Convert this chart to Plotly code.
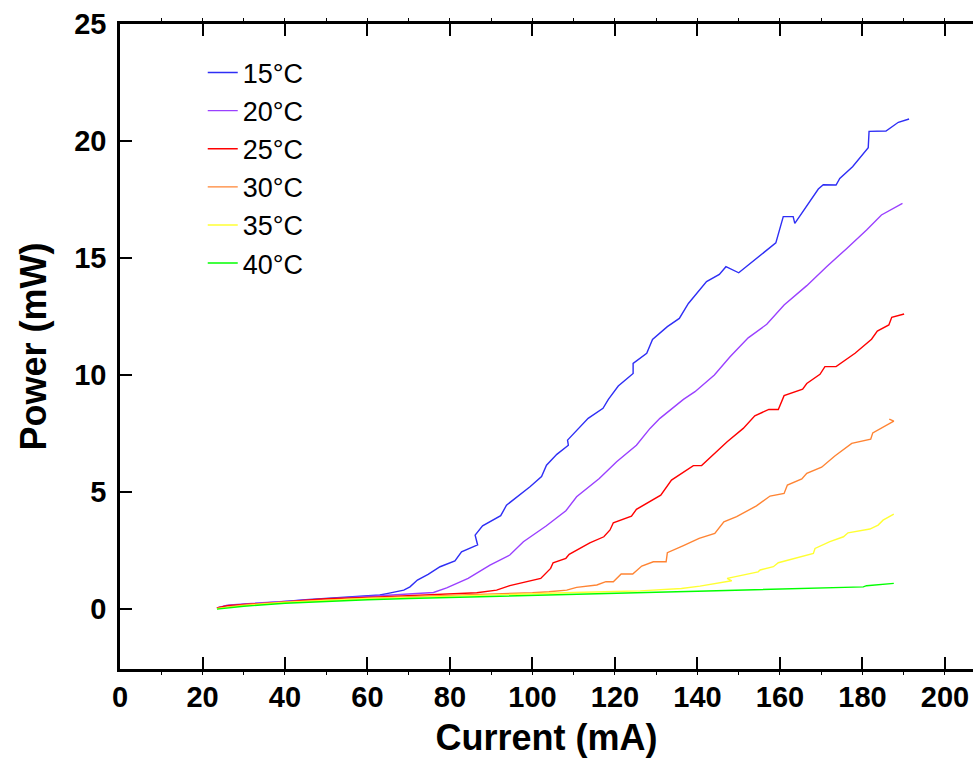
import plotly.graph_objects as go

# 15°C
x15 = [23.5, 26, 30, 35, 40, 45, 50, 55, 60, 63, 65, 68.8, 70.3, 72.1, 74.7, 77.6, 81.2, 82.8, 86.7, 86.1,
       87.9, 92.3, 93.7, 99.4, 102.2, 103.4, 105.9, 108.7, 108.5, 113.5, 117.1, 118.4, 120.8, 124.4, 124.4,
       127.7, 129.1, 132.7, 135.6, 137.8, 142.2, 145.3, 146.9, 150.0, 159.0, 160.8, 163.2, 163.6, 169.3,
       170.5, 173.6, 174.5, 177.6, 181.4, 181.6, 185.7, 188.7, 191.3]
y15 = [0.05, 0.15, 0.2, 0.25, 0.33, 0.4, 0.45, 0.5, 0.55, 0.6, 0.67, 0.81, 0.95, 1.24, 1.48, 1.81, 2.06, 2.45,
       2.74, 3.16, 3.56, 3.99, 4.44, 5.23, 5.66, 6.15, 6.61, 7.0, 7.22, 8.15, 8.58, 8.96, 9.53, 10.07, 10.5,
       10.93, 11.52, 12.07, 12.42, 13.06, 13.99, 14.3, 14.63, 14.37, 15.65, 16.77, 16.77, 16.48, 17.95,
       18.13, 18.12, 18.4, 18.9, 19.71, 20.41, 20.43, 20.8, 20.94]

# 20°C
x20 = [23.5, 26, 30, 35, 40, 45, 50, 55, 63, 70, 76, 79.2, 84.4, 89.7, 94.5, 97.8, 103.3, 108.1, 110.7, 116.2,
       120.4, 125.2, 128.5, 130.9, 136.6, 139.4, 144.1, 147.9, 152.3, 156.8, 161, 166.5, 171.3, 176.2, 181,
       184.6, 189.7]
y20 = [0.05, 0.17, 0.22, 0.27, 0.34, 0.4, 0.45, 0.5, 0.56, 0.62, 0.71, 0.91, 1.31, 1.88, 2.31, 2.88, 3.55, 4.2,
       4.8, 5.58, 6.3, 7.0, 7.72, 8.15, 8.96, 9.29, 10.0, 10.78, 11.59, 12.17, 12.99, 13.82, 14.63, 15.41,
       16.2, 16.84, 17.34]

# 25°C
x25 = [23.5, 26, 30, 38, 45, 50, 60, 70, 80, 86.5, 91.3, 94.5, 102, 104.4, 105, 108.1, 108.9, 113.9, 117.3,
       118.8, 119.6, 124, 125.2, 131.1, 133.7, 139, 141, 147.2, 151.1, 153.9, 157.3, 159.6, 161, 165.5,
       166.5, 169.7, 170.9, 173.6, 178.2, 182.2, 183.6, 186.4, 187.1, 190.1]
y25 = [0.05, 0.15, 0.2, 0.27, 0.38, 0.44, 0.5, 0.58, 0.65, 0.7, 0.81, 1.0, 1.31, 1.74, 1.98, 2.17, 2.34, 2.83,
       3.09, 3.38, 3.69, 3.97, 4.26, 4.87, 5.51, 6.13, 6.13, 7.15, 7.72, 8.26, 8.53, 8.53, 9.12, 9.4, 9.64,
       10.03, 10.36, 10.36, 10.93, 11.53, 11.88, 12.14, 12.47, 12.61]

# 30°C
x30 = [23.5, 30, 40, 50, 60, 70, 80, 90, 100, 104, 107.5, 108.3, 110.7, 115.6, 117.8, 119.6, 121.5, 124.3,
       126.5, 129.3, 132.4, 132.7, 136.6, 140.4, 144.2, 146.4, 149.5, 154.3, 157.6, 161, 161.8, 165.3,
       166.5, 170.1, 173.3, 177.4, 182, 182.5, 187.6, 186.5]
y30 = [0.03, 0.18, 0.3, 0.4, 0.47, 0.53, 0.58, 0.63, 0.7, 0.74, 0.78, 0.81, 0.93, 1.03, 1.17, 1.17, 1.5, 1.5,
       1.84, 2.02, 2.02, 2.41, 2.71, 3.02, 3.23, 3.73, 3.95, 4.41, 4.83, 4.94, 5.3, 5.56, 5.8, 6.06, 6.54,
       7.08, 7.26, 7.53, 8.03, 8.12]

# 35°C
x35 = [23.5, 30, 40, 50, 60, 70, 80, 90, 100, 110, 120, 126.1, 136.1, 140.6, 148.3, 147.2, 154.7, 155.2,
       158.4, 159.6, 168.1, 168.5, 172.1, 175.4, 176.5, 181.8, 183.8, 185, 187.6]
y35 = [0.02, 0.15, 0.28, 0.37, 0.45, 0.5, 0.56, 0.62, 0.67, 0.71, 0.75, 0.78, 0.88, 0.98, 1.21, 1.31, 1.59,
       1.67, 1.81, 1.98, 2.38, 2.59, 2.88, 3.09, 3.26, 3.42, 3.59, 3.8, 4.06]

# 40°C
x40 = [23.5, 30, 40, 50, 60, 70, 80, 90, 100, 110, 120, 130, 140, 150, 160, 170, 180.2, 181, 187.6]
y40 = [0.0, 0.12, 0.25, 0.33, 0.4, 0.45, 0.5, 0.55, 0.6, 0.64, 0.68, 0.72, 0.76, 0.8, 0.85, 0.9, 0.95, 1.0,
       1.1]

names = ["15°C", "20°C", "25°C", "30°C", "35°C", "40°C"]
xs = [x15, x20, x25, x30, x35, x40]
ys = [y15, y20, y25, y30, y35, y40]
colors = ["#2E2EF5", "#9A40FF", "#FF0000", "#FF8433", "#FFFF33", "#00FF00"]

x_ticks = [0, 20, 40, 60, 80, 100, 120, 140, 160, 180, 200]
y_ticks = [0, 5, 10, 15, 20, 25]

FONT = "Arial, 'Liberation Sans', sans-serif"

fig = go.Figure()
for n, x, y, c in zip(names, xs, ys, colors):
    fig.add_trace(go.Scatter(x=x, y=y, mode="lines", name=n,
                             line=dict(color=c, width=1.4)))

fig.update_layout(
    width=973, height=762,
    margin=dict(l=120, r=0, t=24, b=93),
    paper_bgcolor="white", plot_bgcolor="white",
    font=dict(family=FONT, color="black"),
    showlegend=True,
    legend=dict(x=0.097, y=0.962, xanchor="left", yanchor="top",
                font=dict(size=27, family=FONT, color="black"),
                bgcolor="rgba(0,0,0,0)", tracegroupgap=0),
    xaxis=dict(range=[0, 206.8], tickvals=x_ticks, ticks="inside", ticklen=12, tickwidth=2,
               tickcolor="black", showline=True, linecolor="black", linewidth=2.5,
               mirror="ticks", showgrid=False, zeroline=False,
               tickfont=dict(size=29, family=FONT, weight="bold"),
               minor=dict(dtick=10, ticks="outside", ticklen=3, tickwidth=1, tickcolor="black"),
               title=dict(text="Current (mA)", font=dict(size=36, family=FONT, weight="bold"),
                          standoff=14)),
    yaxis=dict(range=[-2.56, 25], tickvals=y_ticks, ticks="inside", ticklen=12, tickwidth=2,
               tickcolor="black", showline=True, linecolor="black", linewidth=2.5,
               showgrid=False, zeroline=False, ticklabelstandoff=5,
               tickfont=dict(size=29, family=FONT, weight="bold"),
               title=dict(text="Power (mW)", font=dict(size=36, family=FONT, weight="bold"),
                          standoff=17)),
)

fig.write_html("out.html", config={"displayModeBar": False},
               post_script="document.body.style.margin='0';document.body.style.overflow='hidden';")
